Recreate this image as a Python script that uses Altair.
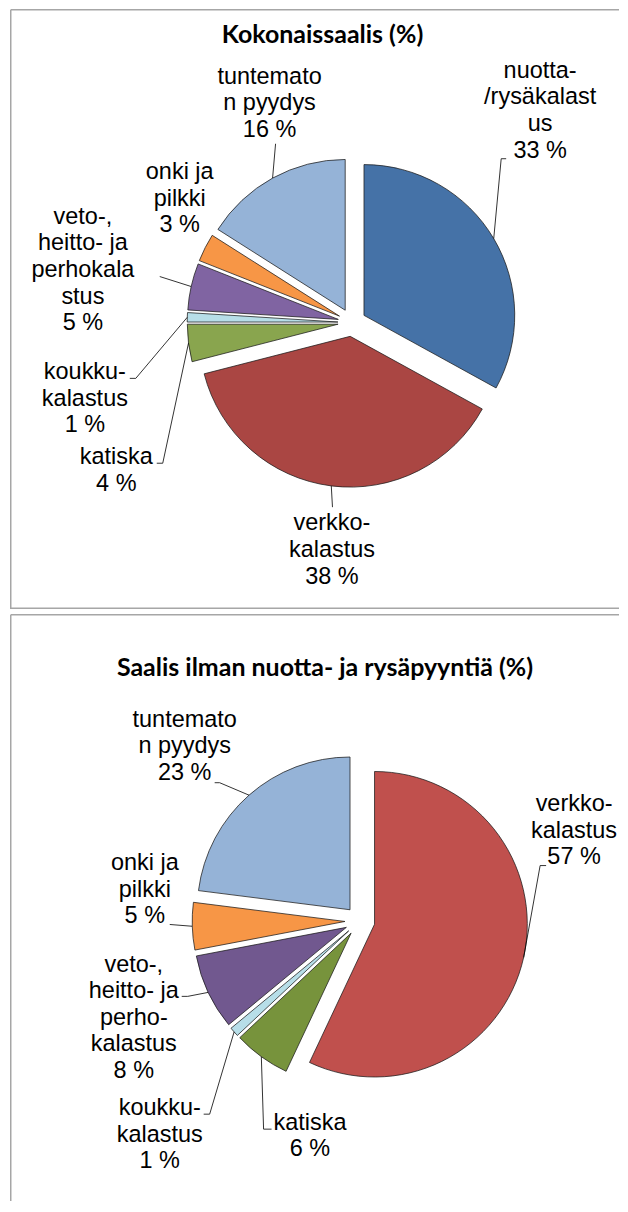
import altair as alt
import pandas as pd

# ---------------- data ----------------
TITLE_1 = "Kokonaissaalis (%)"
CATS_1 = ["nuotta-/rysäkalastus", "verkkokalastus", "katiska", "koukkukalastus",
          "veto-, heitto- ja perhokalastus", "onki ja pilkki", "tuntematon pyydys"]
NAMES_1 = ["nuotta-\n/rysäkalast\nus", "verkko-\nkalastus", "katiska", "koukku-\nkalastus",
           "veto-,\nheitto- ja\nperhokala\nstus", "onki ja\npilkki", "tuntemato\nn pyydys"]
VALUES_1 = [33, 38, 4, 1, 5, 3, 16]

TITLE_2 = "Saalis ilman nuotta- ja rysäpyyntiä (%)"
CATS_2 = ["verkkokalastus", "katiska", "koukkukalastus",
          "veto-, heitto- ja perhokalastus", "onki ja pilkki", "tuntematon pyydys"]
NAMES_2 = ["verkko-\nkalastus", "katiska", "koukku-\nkalastus",
           "veto-,\nheitto- ja\nperho-\nkalastus", "onki ja\npilkki", "tuntemato\nn pyydys"]
VALUES_2 = [57, 6, 1, 8, 5, 23]

# ---------------- styles ----------------
COLORS_1 = ["#4572A7", "#AA4643", "#89A54E", "#B7DEE8", "#8064A2", "#F79646", "#95B3D7"]
COLORS_2 = ["#C0504D", "#77933C", "#B7DEE8", "#71588F", "#F79646", "#95B3D7"]

LABEL_FONT = "Liberation Sans"
LABEL_SIZE = 23.5
LINE_H = 26.7
TITLE_FONT = "Lato"
TITLE_SIZE = 25
FRAME = "#a6a6a6"

PANEL_W = 610
# pie geometry (pixels inside each panel)
PIE_1 = dict(cx=342.5, cy=314, r=151, explode=14, title=(313, 26), h=601, bottom_line=True)
PIE_2 = dict(cx=350.5, cy=307.5, r=153, explode=15, title=(315.5, 54), h=588, bottom_line=False)

# label placement relative to pie centre: label centre, leader elbow, leader tick end
LAYOUT_1 = {
    "nuotta-/rysäkalastus": ((188.5, -212), (149.5, -164), (154.5, -164)),
    "verkkokalastus": ((-20, 228), (-19.5, 185), (-19.5, 185)),
    "katiska": ((-236, 148), (-189.5, 141), (-195.5, 141)),
    "koukkukalastus": ((-267.5, 76.5), (-216.5, 56), (-222.5, 56)),
    "veto-, heitto- ja perhokalastus": ((-269.5, -52.5), (-192.5, -46), (-192.5, -46)),
    "onki ja pilkki": ((-172.5, -124), None, None),
    "tuntematon pyydys": ((-82.5, -219.5), (-76.5, -179), (-76.5, -179)),
}
LAYOUT_2 = {
    "verkkokalastus": ((214.5, -90.5), (180.5, -55.5), (186.5, -55.5)),
    "katiska": ((-50, 215.5), (-96.5, 208.5), (-88.5, 208.5)),
    "koukkukalastus": ((-200.5, 214), (-150.5, 193.5), (-156.5, 193.5)),
    "veto-, heitto- ja perhokalastus": ((-226.5, 97), (-172.5, 75.5), (-178.5, 75.5)),
    "onki ja pilkki": ((-215.5, -31.5), (-190.5, 3.5), (-190.5, 3.5)),
    "tuntematon pyydys": ((-175.5, -175), (-140.5, -138.5), (-145.5, -138.5)),
}


def panel(cats, names, values, colors, title, pie, layout):
    rows = []
    for i, (c, n, v) in enumerate(zip(cats, names, values)):
        lab, elb, tck = layout[c]
        rows.append(dict(
            cat=c, name=n, value=v, order=i,
            ldx=lab[0], ldy=lab[1],
            lead=elb is not None,
            edx=(elb or (0, 0))[0], edy=(elb or (0, 0))[1],
            tdx=(tck or (0, 0))[0], tdy=(tck or (0, 0))[1],
        ))
    df = pd.DataFrame(rows)
    cx, cy, r, d = pie["cx"], pie["cy"], pie["r"], pie["explode"]

    base = (
        alt.Chart(df)
        .transform_joinaggregate(total="sum(value)")
        .transform_window(cum="sum(value)", sort=[alt.SortField("order")], frame=[None, 0])
        .transform_calculate(t1="datum.cum / datum.total * 2 * PI")
        .transform_calculate(t0="datum.t1 - datum.value / datum.total * 2 * PI")
        .transform_calculate(mid="(datum.t0 + datum.t1) / 2")
        .transform_calculate(sx=f"{cx} + {d} * sin(datum.mid)")
        .transform_calculate(sy=f"{cy} - {d} * cos(datum.mid)")
        .transform_calculate(ax=f"datum.sx + {r} * sin(datum.mid)")
        .transform_calculate(ay=f"datum.sy - {r} * cos(datum.mid)")
        .transform_calculate(text="datum.name + '\\n' + datum.value + ' %'")
        .transform_calculate(nl="length(split(datum.text, '\\n'))")
        .transform_calculate(lx=f"{cx} + datum.ldx",
                             ly=f"{cy} + datum.ldy - (datum.nl - 1) / 2 * {LINE_H}",
                             ex=f"{cx} + datum.edx", ey=f"{cy} + datum.edy",
                             tx=f"{cx} + datum.tdx", ty=f"{cy} + datum.tdy")
    )

    X = lambda f: alt.X(f, scale=None, axis=None)
    Y = lambda f: alt.Y(f, scale=None, axis=None)

    arcs = base.mark_arc(radius=r, stroke="#1a1a1a", strokeWidth=0.75).encode(
        theta=alt.Theta("t0:Q", scale=None, stack=False),
        theta2="t1:Q",
        x=X("sx:Q"), y=Y("sy:Q"),
        color=alt.Color("cat:N", scale=alt.Scale(domain=cats, range=colors), legend=None),
    )
    leader = base.transform_filter("datum.lead").mark_rule(color="black", strokeWidth=0.8).encode(
        x=X("ax:Q"), y=Y("ay:Q"), x2="ex:Q", y2="ey:Q")
    tick = base.transform_filter("datum.lead").mark_rule(color="black", strokeWidth=0.8).encode(
        x=X("ex:Q"), y=Y("ey:Q"), x2="tx:Q", y2="ty:Q")
    labels = base.mark_text(font=LABEL_FONT, fontSize=LABEL_SIZE, lineHeight=LINE_H,
                            lineBreak="\n", align="center", baseline="middle",
                            color="black", clip=True).encode(x=X("lx:Q"), y=Y("ly:Q"), text="text:N")
    ttl = alt.Chart(pd.DataFrame({"t": [title]})).mark_text(
        font=TITLE_FONT, fontSize=TITLE_SIZE, fontWeight="bold", color="black",
        align="center", baseline="middle").encode(
        text="t:N", x=alt.value(pie["title"][0]), y=alt.value(pie["title"][1]))

    # panel frame (top, left and, for the first panel, bottom edge)
    fr = alt.Chart(pd.DataFrame({"f": [0]}))
    frame_layers = [
        fr.mark_rule(color=FRAME, strokeWidth=1.5).encode(
            x=alt.value(0.75), x2=alt.value(PANEL_W), y=alt.value(0.75), y2=alt.value(0.75)),
        fr.mark_rule(color=FRAME, strokeWidth=1.5).encode(
            x=alt.value(0.75), x2=alt.value(0.75), y=alt.value(0.75), y2=alt.value(pie["h"])),
    ]
    if pie["bottom_line"]:
        frame_layers.append(fr.mark_rule(color=FRAME, strokeWidth=1.5).encode(
            x=alt.value(0.75), x2=alt.value(PANEL_W), y=alt.value(pie["h"] - 0.75),
            y2=alt.value(pie["h"] - 0.75)))
    return alt.layer(*frame_layers, arcs, leader, tick, labels, ttl).properties(
        width=PANEL_W, height=pie["h"])


top = panel(CATS_1, NAMES_1, VALUES_1, COLORS_1, TITLE_1, PIE_1, LAYOUT_1)
bottom = panel(CATS_2, NAMES_2, VALUES_2, COLORS_2, TITLE_2, PIE_2, LAYOUT_2)

chart = (
    alt.vconcat(top, bottom, spacing=5, bounds="flush")
    .resolve_scale(color="independent")
    .properties(padding={"left": 2, "top": 0, "right": 0, "bottom": 0})
    .configure_view(stroke=None)
)

chart.save("out.html", embed_options={"renderer": "svg", "actions": False})
